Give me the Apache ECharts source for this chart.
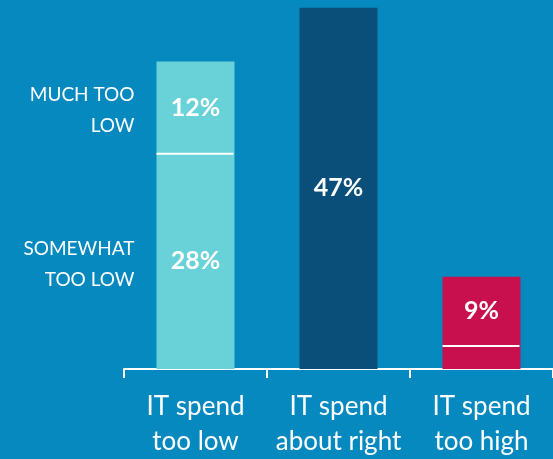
<!DOCTYPE html>
<html>
<head>
<meta charset="utf-8">
<script src="https://cdn.jsdelivr.net/npm/echarts@6/dist/echarts.min.js"></script>
<style>
  html, body { margin: 0; padding: 0; background: #0689bf; }
  #chart { width: 553px; height: 459px; }
</style>
</head>
<body>
<div id="chart"></div>
<script>
// Survey result: how respondents rate their IT spend
const categories = ['IT spend\ntoo low', 'IT spend\nabout right', 'IT spend\ntoo high'];
// lower (first) segment of each bar, in percent
const lowerSegment = [28, 47, 3];
// upper segment stacked on top, in percent
const upperSegment = [12, null, 9];
// which segment values get an inside percentage label
const lowerLabelled = [true, true, false];
const upperLabelled = [true, false, true];
// names of the two segments of the first bar, shown to its left
const segmentNames = ['SOMEWHAT\nTOO LOW', 'MUCH TOO\nLOW'];
const barColors = ['#69d2d9', '#0a4f7a', '#c8104f'];

const FONT = 'Lato, "Open Sans", sans-serif';
const BAR_W = 78;

const pctLabel = {
  show: true,
  position: 'inside',
  color: '#ffffff',
  fontFamily: FONT,
  fontWeight: 'bold',
  fontSize: 25,
  formatter: p => p.value + '%'
};

const nameLabel = {
  position: 'left',
  distance: 22,
  align: 'right',
  color: '#ffffff',
  fontFamily: FONT,
  fontSize: 19,
  lineHeight: 31,
  offset: [0, 3]
};

const chart = echarts.init(document.getElementById('chart'), null, { renderer: 'canvas' });

chart.setOption({
  backgroundColor: '#0689bf',
  animation: false,
  grid: { left: 124, right: -2, top: 0, bottom: 90 },
  xAxis: {
    type: 'category',
    data: categories,
    axisLine: { show: true, lineStyle: { color: '#ffffff', width: 2 } },
    axisTick: { show: true, interval: 0, length: 9, lineStyle: { color: '#ffffff', width: 2 } },
    axisLabel: {
      interval: 0,
      color: '#ffffff',
      fontFamily: FONT,
      fontSize: 26,
      lineHeight: 35,
      margin: 20
    }
  },
  yAxis: {
    type: 'value',
    min: 0,
    max: 48,
    show: false,
    splitLine: { show: false }
  },
  series: [
    {
      name: 'lower',
      type: 'bar',
      stack: 'share',
      barWidth: BAR_W,
      barGap: '-100%',
      data: lowerSegment.map((v, i) => ({
        value: v,
        itemStyle: { color: barColors[i] },
        label: Object.assign({}, pctLabel, { show: lowerLabelled[i] })
      }))
    },
    {
      name: 'upper',
      type: 'bar',
      stack: 'share',
      barWidth: BAR_W,
      data: upperSegment.map((v, i) => ({
        value: v,
        itemStyle: { color: barColors[i] },
        label: Object.assign({}, pctLabel, { show: upperLabelled[i] })
      }))
    },
    // transparent twin of the first bar carrying the segment names on its left
    {
      name: 'names',
      type: 'bar',
      stack: 'names',
      barWidth: BAR_W,
      barGap: '-100%',
      silent: true,
      itemStyle: { color: 'rgba(0,0,0,0)' },
      data: [
        { value: lowerSegment[0], label: { show: true, formatter: segmentNames[0] } },
        null, null
      ],
      label: nameLabel,
      z: 1
    },
    {
      name: 'names2',
      type: 'bar',
      stack: 'names',
      barWidth: BAR_W,
      silent: true,
      itemStyle: { color: 'rgba(0,0,0,0)' },
      data: [
        { value: upperSegment[0], label: { show: true, formatter: segmentNames[1] } },
        null, null
      ],
      label: nameLabel,
      z: 1
    },
    // white divider between the two stacked segments
    {
      name: 'divider',
      type: 'custom',
      z: 5,
      data: lowerSegment.map((v, i) => [i, upperSegment[i] == null ? null : v]),
      renderItem: (params, api) => {
        const val = api.value(1);
        if (val == null || isNaN(val)) return null;
        const p = api.coord([api.value(0), val]);
        const half = BAR_W / 2;
        return {
          type: 'line',
          shape: { x1: p[0] - half, y1: p[1], x2: p[0] + half - 1, y2: p[1] },
          style: { stroke: '#ffffff', lineWidth: 2 }
        };
      }
    }
  ]
});
</script>
</body>
</html>
